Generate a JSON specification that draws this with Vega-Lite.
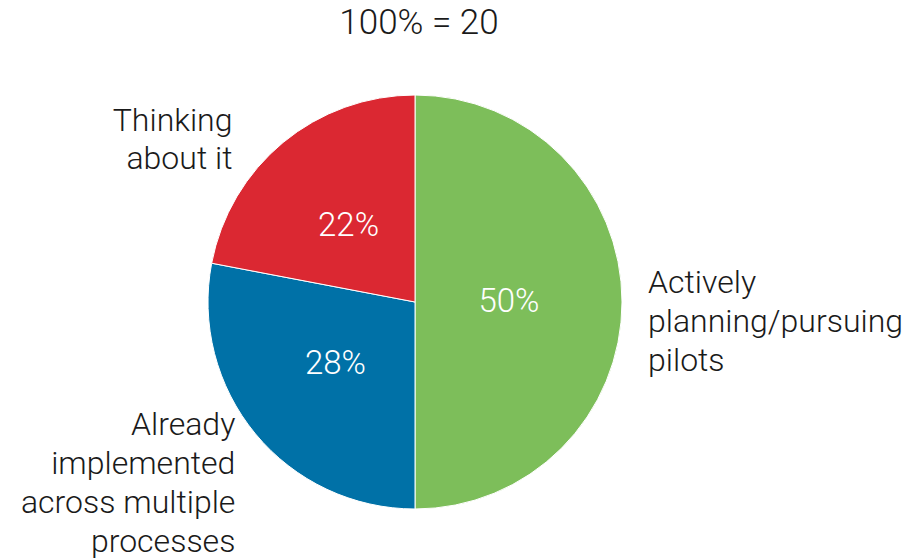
{
  "$schema": "https://vega.github.io/schema/vega-lite/v6.json",
  "width": 830,
  "height": 484,
  "autosize": "none",
  "padding": {"left": 0, "top": 60, "right": 84, "bottom": 16},
  "background": "white",
  "title": {
    "text": "100% = 20",
    "anchor": "middle",
    "font": "Roboto",
    "fontWeight": 300,
    "fontSize": 35,
    "color": "#1a1a1a",
    "offset": 16,
    "dx": 4
  },
  "config": {"view": {"stroke": null}},
  "data": {
    "values": [
      {"category": "Actively planning/pursuing pilots", "label": ["Actively", "planning/pursuing", "pilots"], "value": 50, "pct": "50%", "order": 1},
      {"category": "Already implemented across multiple processes", "label": ["Already", "implemented", "across multiple", "processes"], "value": 28, "pct": "28%", "order": 2},
      {"category": "Thinking about it", "label": ["Thinking", "about it"], "value": 22, "pct": "22%", "order": 3}
    ]
  },
  "encoding": {
    "theta": {"field": "value", "type": "quantitative", "stack": true},
    "order": {"field": "order", "type": "quantitative"}
  },
  "layer": [
    {
      "mark": {"type": "arc", "outerRadius": 207, "stroke": "white", "strokeWidth": 1},
      "encoding": {
        "color": {
          "field": "category",
          "type": "nominal",
          "scale": {
            "domain": ["Actively planning/pursuing pilots", "Already implemented across multiple processes", "Thinking about it"],
            "range": ["#7dbe5a", "#0071a7", "#db2832"]
          },
          "legend": null
        }
      }
    },
    {
      "mark": {"type": "text", "radius": 98, "font": "Roboto", "fontWeight": 300, "fontSize": 33, "color": "white", "dx": -4},
      "encoding": {"text": {"field": "pct"}}
    },
    {
      "mark": {"type": "text", "radius": 233, "align": "left", "baseline": "middle", "font": "Roboto", "fontWeight": 300, "fontSize": 32, "lineHeight": 39, "color": "#1a1a1a", "dy": -19},
      "encoding": {"text": {"condition": {"test": "datum.order == 1", "field": "label"}, "value": ""}}
    },
    {
      "mark": {"type": "text", "radius": 244, "align": "right", "baseline": "middle", "font": "Roboto", "fontWeight": 300, "fontSize": 32, "lineHeight": 38, "color": "#1a1a1a", "dx": -27, "dy": 7},
      "encoding": {"text": {"condition": {"test": "datum.order == 3", "field": "label"}, "value": ""}}
    },
    {
      "mark": {"type": "text", "radius": 250, "align": "right", "baseline": "middle", "font": "Roboto", "fontWeight": 300, "fontSize": 32, "lineHeight": 39, "color": "#1a1a1a", "dx": 13, "dy": -36},
      "encoding": {"text": {"condition": {"test": "datum.order == 2", "field": "label"}, "value": ""}}
    }
  ]
}
